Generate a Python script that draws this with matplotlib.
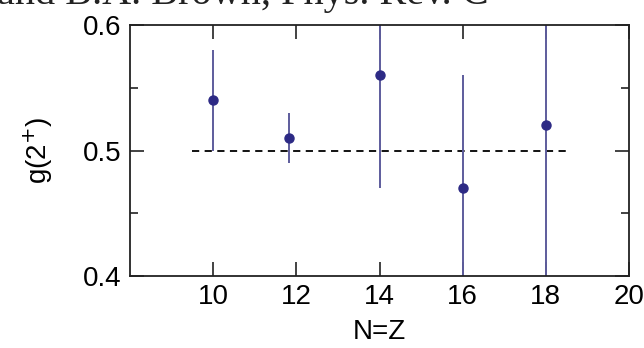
import matplotlib
matplotlib.use("Agg")
import matplotlib.pyplot as plt
from matplotlib import font_manager

# data
nz = [10, 11.82, 14, 16, 18]
g2 = [0.54, 0.51, 0.56, 0.47, 0.52]
err_lo = [0.04, 0.02, 0.09, 0.09, 0.15]
err_hi = [0.04, 0.02, 0.09, 0.09, 0.15]
ref_x = [9.5, 18.6]
ref_y = [0.5, 0.5]
x_ticks = [10, 12, 14, 16, 18, 20]
y_ticks = [0.4, 0.5, 0.6]

names = {f.name for f in font_manager.fontManager.ttflist}
sans = "Liberation Sans Narrow" if "Liberation Sans Narrow" in names else "Liberation Sans"

plt.rcParams["font.family"] = sans
plt.rcParams["font.size"] = 20

fig = plt.figure(figsize=(6.44, 3.48), dpi=100)
ax = fig.add_axes([0.2019, 0.2069, 0.7748, 0.7211])

ax.plot(ref_x, ref_y, color="black", lw=1.3, ls=(0, (4, 3)))
ax.errorbar(nz, g2, yerr=[err_lo, err_hi], fmt="none", ecolor="#5d5c9c", elinewidth=1.4)
ax.plot(nz, g2, "o", color="#2d2a85", ms=6.5)

ax.set_xlim(8, 20)
ax.set_ylim(0.4, 0.6)
ax.set_xticks(x_ticks)
ax.set_yticks(y_ticks)
ax.set_yticks([0.45, 0.55], minor=True)
ax.set_yticklabels(["0.4", "0.5", "0.6"])
ax.tick_params(which="both", direction="in", top=True, right=True, width=1.2, colors="#222222")
ax.tick_params(which="major", length=10, pad=6, labelcolor="black")
ax.tick_params(which="minor", length=6)
for s in ax.spines.values():
    s.set_linewidth(1.3)
    s.set_color("#222222")

ax.set_xlabel("N=Z", labelpad=6)
ax.set_ylabel(r"g(2$^{+}$)", labelpad=20)

# citation line, mostly cropped off by the top edge as in the scan
fig.text(-0.004, 1 - 4 / 348, "and B.A. Brown, Phys. Rev. C", family="Liberation Serif",
         fontsize=29, va="baseline", ha="left", color="#222222")

fig.savefig("out.png", dpi=100)
